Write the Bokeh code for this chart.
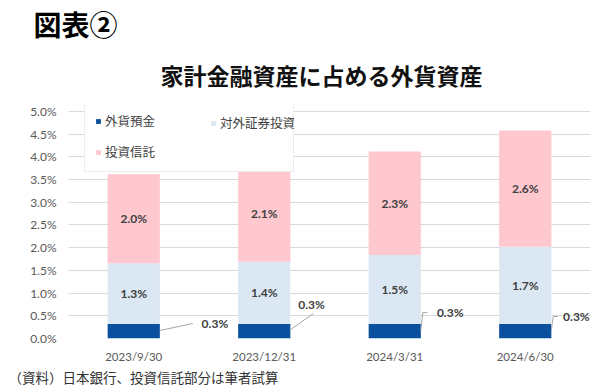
import numpy as np
from bokeh.plotting import figure
from bokeh.models import (Range1d, FixedTicker, Legend, LegendItem, Title,
                          ColumnDataSource, PrintfTickFormatter)
from bokeh.embed import file_html
from bokeh.resources import INLINE
from bokeh.core.properties import value

# ---- data ----
dates = ["2023/9/30", "2023/12/31", "2024/3/31", "2024/6/30"]
deposits = [0.32, 0.32, 0.32, 0.32]        # 外貨預金
securities = [1.34, 1.37, 1.52, 1.70]      # 対外証券投資
trusts = [1.96, 2.12, 2.28, 2.56]          # 投資信託
series_names = ["外貨預金", "対外証券投資", "投資信託"]
y_ticks = [0.0, 0.5, 1.0, 1.5, 2.0, 2.5, 3.0, 3.5, 4.0, 4.5, 5.0]

title_main = "図表②"
title_sub = "家計金融資産に占める外貨資産"
source_note = "（資料）日本銀行、投資信託部分は筆者試算"

# ---- styles / layout ----
C_DEP = "#0b4f9f"
C_SEC = "#dbe7f2"
C_TR = "#ffc7ce"
GRID = "#d9d9d9"
TXT = "#404040"
AXT = "#595959"
BAR_W = 0.4
Y_TOP = 5.154          # a little head-room above the 5.0% grid line (for the legend box)
# placement of the small deposit labels (offsets from bar centre, in data units)
lab_dx = [0.52, 0.261, 0.323, 0.29]
lab_y = [0.33, 0.75, 0.57, 0.485]

x = np.arange(len(dates), dtype=float)
dep = np.array(deposits)
sec = np.array(securities)
tr = np.array(trusts)

src = ColumnDataSource(dict(
    x=x,
    dep_top=dep,
    sec_bot=dep, sec_top=dep + sec,
    tr_bot=dep + sec, tr_top=dep + sec + tr,
    sec_mid=dep + sec / 2, tr_mid=dep + sec + tr / 2,
    sec_lab=[f"{v:.1f}%" for v in sec],
    tr_lab=[f"{v:.1f}%" for v in tr],
))

p = figure(width=600, height=392, x_range=Range1d(-0.5, 3.5), y_range=Range1d(0, Y_TOP),
           toolbar_location=None, output_backend="svg",
           min_border_left=68, min_border_right=10, min_border_top=104, min_border_bottom=54)
p.outline_line_color = None
p.background_fill_color = "white"
p.border_fill_color = "white"

r_dep = p.vbar(x="x", bottom=0, top="dep_top", width=BAR_W, fill_color=C_DEP, line_color=None, source=src)
r_sec = p.vbar(x="x", bottom="sec_bot", top="sec_top", width=BAR_W, fill_color=C_SEC, line_color=None, source=src)
r_tr = p.vbar(x="x", bottom="tr_bot", top="tr_top", width=BAR_W, fill_color=C_TR, line_color=None, source=src)

lab_font = value("Lato")
p.text(x="x", y="sec_mid", text="sec_lab", source=src, text_align="center", text_baseline="middle",
       text_font=lab_font, text_font_size="12px", text_font_style="bold", text_color=TXT)
p.text(x="x", y="tr_mid", text="tr_lab", source=src, text_align="center", text_baseline="middle",
       text_font=lab_font, text_font_size="12px", text_font_style="bold", text_color=TXT)

# deposit labels with leader lines
edge = x + BAR_W / 2
ly = np.array(lab_y)
xs_lines = [
    [edge[0], edge[0] + 0.253],
    [edge[1], edge[1] + 0.176],
    [edge[2], edge[2] + 0.015, edge[2] + 0.05],
    [edge[3], edge[3] + 0.015, edge[3] + 0.05],
]
ys_lines = [
    [dep[0] * 0.55, ly[0]],
    [dep[1] * 0.6, ly[1] - 0.2],
    [dep[2] * 0.55, ly[2], ly[2]],
    [dep[3] * 0.6, ly[3], ly[3]],
]
p.multi_line(xs=xs_lines, ys=ys_lines, line_color="#a6a6a6", line_width=1)
p.text(x=list(x + np.array(lab_dx)), y=list(ly), text=[f"{v:.1f}%" for v in dep],
       text_align="left", text_baseline="middle", text_font=lab_font, text_font_size="12px",
       text_font_style="bold", text_color=TXT)

# axes
p.xaxis.ticker = FixedTicker(ticks=list(range(len(dates))))
p.xaxis.major_label_overrides = {i: d for i, d in enumerate(dates)}
p.yaxis.ticker = FixedTicker(ticks=y_ticks)
p.yaxis.formatter = PrintfTickFormatter(format="%.1f%%")
for ax in (p.xaxis, p.yaxis):
    ax.axis_line_color = None
    ax.major_tick_line_color = None
    ax.minor_tick_line_color = None
    ax.major_tick_out = 0
    ax.major_tick_in = 0
    ax.minor_tick_out = 0
    ax.major_label_text_font = "Lato"
    ax.major_label_text_color = AXT
p.xaxis.major_label_text_font_size = "11.5px"
p.yaxis.major_label_text_font_size = "12px"
p.xaxis.major_label_standoff = 11
p.yaxis.major_label_standoff = 12
p.xgrid.grid_line_color = None
p.ygrid.ticker = FixedTicker(ticks=y_ticks)
p.ygrid.grid_line_color = GRID
p.ygrid.grid_line_width = 1

# legend: boxed legend (left column) + second-column legend laid over it
leg_common = dict(glyph_width=6, glyph_height=6, label_standoff=4, label_height=18, spacing=12,
                  label_text_font="Noto Sans CJK JP", label_text_font_size="12.5px",
                  label_text_color=TXT, margin=0)
leg1 = Legend(items=[LegendItem(label=series_names[0], renderers=[r_dep]),
                     LegendItem(label=series_names[2], renderers=[r_tr])],
              location=(16, 166), padding=10, label_width=178,
              border_line_color=GRID, border_line_width=1,
              background_fill_color="white", background_fill_alpha=1.0, **leg_common)
leg2 = Legend(items=[LegendItem(label=series_names[1], renderers=[r_sec])],
              location=(142, 206), padding=0, border_line_color=None,
              background_fill_alpha=0.0, **leg_common)
p.add_layout(leg1, "center")
p.add_layout(leg2, "center")

# titles (first added sits nearest the plot) and source note
p.add_layout(Title(text=title_sub, text_font="Noto Sans CJK JP", text_font_size="23px",
                   text_font_style="bold", text_color="#111111", align="left", offset=92,
                   vertical_align="middle", standoff=24), "above")
p.add_layout(Title(text=title_main, text_font="Noto Sans CJK JP", text_font_size="28px",
                   text_font_style="bold", text_color="#000000", align="left", offset=-35,
                   vertical_align="middle", standoff=0), "above")
p.add_layout(Title(text=source_note, text_font="Noto Sans CJK JP", text_font_size="13.5px",
                   text_font_style="normal", text_color="#333333", align="left", offset=-60,
                   vertical_align="middle", standoff=0), "below")

open("out.html", "w").write(file_html(p, INLINE))
